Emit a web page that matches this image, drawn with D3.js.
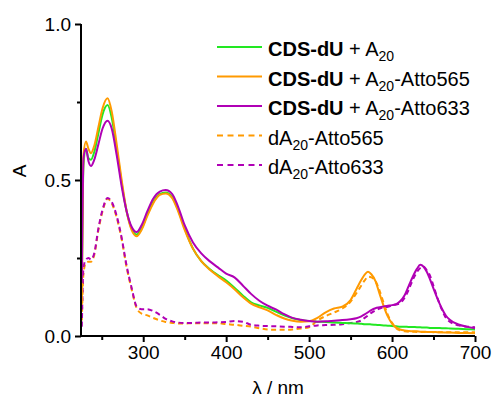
<!DOCTYPE html>
<html><head><meta charset="utf-8">
<script src="https://cdn.jsdelivr.net/npm/d3@7"></script>
<style>body{margin:0;background:#fff}svg{display:block}text{font-family:"Liberation Sans",Arial,sans-serif;fill:#000}</style>
</head><body><svg id="c" width="493" height="398"></svg>
<script>
const wavelengths = [226,228,231,234,237,241,246,251,257,262,268,274,280,286,292,298,305,312,320,327,335,342,350,360,370,380,390,400,410,420,430,440,450,460,470,480,490,500,510,520,530,540,550,557,563,567,571,575,580,585,590,595,600,605,610,615,620,625,630,634,638,642,646,650,655,660,665,670,680,690,700];
const cdsA20 = [0.15,0.55,0.60,0.57,0.565,0.59,0.65,0.71,0.74,0.70,0.60,0.49,0.40,0.345,0.325,0.345,0.39,0.43,0.455,0.46,0.445,0.405,0.345,0.28,0.24,0.215,0.195,0.178,0.155,0.13,0.108,0.098,0.09,0.078,0.066,0.057,0.051,0.048,0.046,0.045,0.043,0.042,0.041,0.040,0.039,0.038,0.038,0.037,0.036,0.035,0.034,0.033,0.032,0.031,0.030,0.030,0.029,0.029,0.028,0.028,0.027,0.027,0.026,0.026,0.026,0.025,0.025,0.024,0.023,0.022,0.021];
const cdsA20Atto565 = [0.10,0.58,0.623,0.60,0.586,0.61,0.67,0.73,0.762,0.72,0.615,0.50,0.40,0.34,0.32,0.34,0.385,0.425,0.452,0.457,0.442,0.40,0.34,0.28,0.24,0.213,0.192,0.172,0.15,0.125,0.104,0.092,0.082,0.068,0.056,0.049,0.046,0.047,0.058,0.076,0.088,0.094,0.115,0.15,0.18,0.197,0.206,0.198,0.176,0.135,0.095,0.062,0.04,0.027,0.021,0.018,0.016,0.015,0.015,0.014,0.014,0.013,0.013,0.013,0.012,0.012,0.011,0.011,0.010,0.010,0.009];
const cdsA20Atto633 = [0.17,0.57,0.60,0.56,0.545,0.565,0.615,0.665,0.69,0.665,0.58,0.48,0.40,0.35,0.333,0.355,0.40,0.44,0.463,0.468,0.455,0.415,0.355,0.30,0.265,0.24,0.22,0.20,0.188,0.162,0.135,0.113,0.097,0.085,0.07,0.058,0.052,0.048,0.046,0.047,0.049,0.051,0.054,0.057,0.063,0.069,0.076,0.083,0.089,0.092,0.095,0.097,0.099,0.102,0.112,0.13,0.16,0.19,0.215,0.228,0.222,0.205,0.18,0.152,0.118,0.088,0.065,0.051,0.037,0.03,0.025];
const dA20Atto565 = [0.05,0.20,0.235,0.238,0.238,0.26,0.34,0.40,0.44,0.425,0.38,0.31,0.22,0.15,0.09,0.072,0.066,0.058,0.05,0.045,0.042,0.040,0.040,0.041,0.041,0.041,0.041,0.038,0.036,0.033,0.03,0.025,0.021,0.020,0.020,0.021,0.024,0.028,0.05,0.064,0.075,0.088,0.11,0.137,0.162,0.178,0.19,0.188,0.176,0.145,0.105,0.067,0.042,0.025,0.018,0.015,0.014,0.014,0.013,0.013,0.013,0.013,0.013,0.012,0.012,0.012,0.012,0.012,0.012,0.012,0.012];
const dA20Atto633 = [0.03,0.22,0.245,0.25,0.245,0.265,0.345,0.405,0.442,0.43,0.385,0.315,0.225,0.155,0.095,0.086,0.086,0.08,0.068,0.055,0.047,0.043,0.042,0.042,0.043,0.043,0.044,0.045,0.048,0.046,0.036,0.033,0.032,0.031,0.03,0.029,0.028,0.031,0.034,0.035,0.036,0.038,0.042,0.045,0.05,0.058,0.066,0.074,0.082,0.088,0.092,0.094,0.098,0.101,0.106,0.122,0.148,0.18,0.205,0.218,0.222,0.21,0.192,0.16,0.12,0.085,0.058,0.045,0.034,0.03,0.028];
const xTicks = [300,400,500,600,700];
const xMinor = [250,350,450,550,650];
const yTicks = [0,0.5,1.0];
const yMinor = [0.25,0.75];

const series = [
  {name:"dA20-Atto565", v:dA20Atto565, color:"#ff9a00", dash:true},
  {name:"dA20-Atto633", v:dA20Atto633, color:"#b000b5", dash:true},
  {name:"CDS-dU + A20", v:cdsA20, color:"#22e822", dash:false},
  {name:"CDS-dU + A20-Atto565", v:cdsA20Atto565, color:"#ff9a00", dash:false},
  {name:"CDS-dU + A20-Atto633", v:cdsA20Atto633, color:"#b000b5", dash:false}
];

const svg = d3.select("#c");
const x = d3.scaleLinear().domain([225,700]).range([81,475]);
const y = d3.scaleLinear().domain([0,1]).range([336,24]);

const line = d3.line().x((d,i)=>x(wavelengths[i])).y(d=>y(d)).curve(d3.curveMonotoneX);
series.forEach(s=>{
  svg.append("path").attr("d", line(s.v)).attr("fill","none")
    .attr("stroke", s.color).attr("stroke-width", 2)
    .attr("stroke-dasharray", s.dash ? "5,3.5" : null);
});

// axes
const xAxis = svg.append("g").attr("transform","translate(0,336)");
xAxis.call(d3.axisBottom(x).tickValues(xTicks).tickSize(6).tickPadding(4).tickFormat(d3.format("d")));
xAxis.append("g").call(d3.axisBottom(x).tickValues(xMinor).tickSize(4).tickFormat(""));
const yAxis = svg.append("g").attr("transform","translate(81,0)");
yAxis.call(d3.axisLeft(y).tickValues(yTicks).tickSize(6).tickPadding(4).tickFormat(d3.format(".1f")));
yAxis.append("g").call(d3.axisLeft(y).tickValues(yMinor).tickSize(4).tickFormat(""));
svg.selectAll(".domain").attr("stroke","#000").attr("stroke-width",2);
svg.selectAll(".tick line").attr("stroke","#000").attr("stroke-width",2);
svg.selectAll(".tick text").style("font-size","19px").attr("fill","#000");
xAxis.selectAll(".domain").attr("d","M81,0H475");
yAxis.selectAll(".domain").attr("d","M0,24V336");

svg.append("text").attr("x",278).attr("y",394).attr("text-anchor","middle").style("font-size","19px").text("λ / nm");
svg.append("text").attr("transform","translate(26,171) rotate(-90)").attr("text-anchor","middle").style("font-size","19px").text("A");

// legend
const legendItems = [
  {bold:"CDS-dU", pre:" + A", sub:"20", post:"", color:"#22e822", dash:false},
  {bold:"CDS-dU", pre:" + A", sub:"20", post:"-Atto565", color:"#ff9a00", dash:false},
  {bold:"CDS-dU", pre:" + A", sub:"20", post:"-Atto633", color:"#b000b5", dash:false},
  {bold:"", pre:"dA", sub:"20", post:"-Atto565", color:"#ff9a00", dash:true},
  {bold:"", pre:"dA", sub:"20", post:"-Atto633", color:"#b000b5", dash:true}
];
const lg = svg.append("g");
legendItems.forEach((it,i)=>{
  const ly = 47 + i*29.5;
  lg.append("line").attr("x1",217).attr("x2",262).attr("y1",ly).attr("y2",ly)
    .attr("stroke",it.color).attr("stroke-width",2).attr("stroke-dasharray", it.dash?"6,4.5":null);
  const t = lg.append("text").attr("x",268).attr("y",ly+9).style("font-size","20px");
  if (it.bold) t.append("tspan").style("font-weight","bold").text(it.bold);
  t.append("tspan").text(it.pre);
  t.append("tspan").attr("dy",5).style("font-size","14px").text(it.sub);
  if (it.post) t.append("tspan").attr("dy",-5).text(it.post);
});
</script></body></html>
